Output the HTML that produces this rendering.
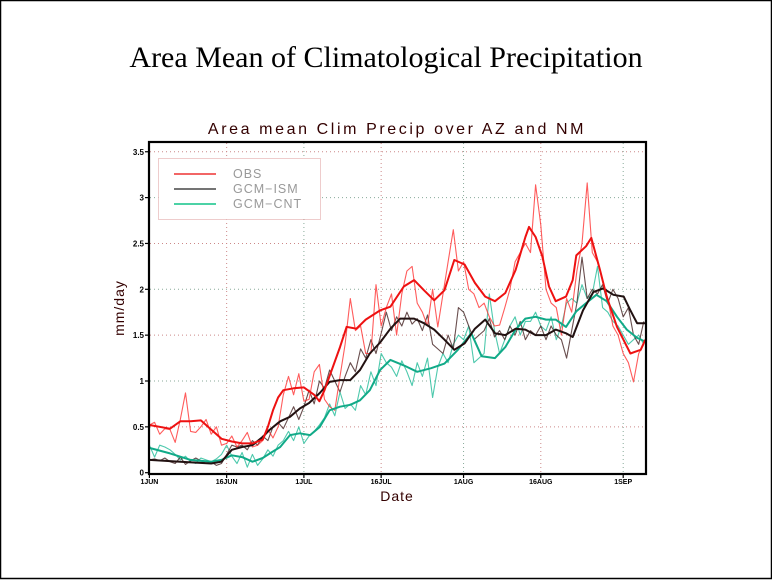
<!DOCTYPE html>
<html><head><meta charset="utf-8"><style>
html,body{margin:0;padding:0;background:#fff;}
#wrap{position:relative;width:772px;height:580px;overflow:hidden;}
svg{position:absolute;left:0;top:0;}
</style></head><body>
<div id="wrap">
<svg id="svg" width="772" height="580" font-family="Liberation Sans, sans-serif">
<rect x="0.5" y="0.5" width="771" height="578" fill="none" stroke="#000" stroke-width="1.5"/>
<text x="386" y="67" text-anchor="middle" font-family="Liberation Serif, serif" font-size="30" fill="#000">Area Mean of Climatological Precipitation</text>
<text x="397" y="134" text-anchor="middle" font-size="16" fill="#300" letter-spacing="2.6">Area mean Clim Precip over AZ and NM</text>
<text x="124" y="308" text-anchor="middle" font-size="14" fill="#300" letter-spacing="1" transform="rotate(-90 124 308)">mm/day</text>
<text x="397" y="501" text-anchor="middle" font-size="14" fill="#300" letter-spacing="1">Date</text>
<g id="grid"></g>
<g id="series"></g>
<rect x="149" y="142" width="497" height="332" fill="none" stroke="#000" stroke-width="2.2"/>
<g id="axes"></g>
<g>
<rect x="158.5" y="158.5" width="162" height="61" fill="#fff" stroke="#d99" stroke-dasharray="1,1"/>
<line x1="174" y1="174" x2="216" y2="174" stroke="#e33" stroke-width="1.5"/>
<text x="233" y="178" font-size="12.5" letter-spacing="1" fill="#999">OBS</text>
<line x1="174" y1="189" x2="216" y2="189" stroke="#222" stroke-width="1.2"/>
<text x="233" y="193" font-size="12.5" letter-spacing="1" fill="#999">GCM−ISM</text>
<line x1="174" y1="204" x2="216" y2="204" stroke="#3c9" stroke-width="1.8"/>
<text x="233" y="208" font-size="12.5" letter-spacing="1" fill="#999">GCM−CNT</text>
</g>
</svg>
</div>
<script>
const yTicks=[0,0.5,1,1.5,2,2.5,3,3.5];
const yTickLabels=["0","0.5","1","1.5","2","2.5","3","3.5"];
const xTickDays=[0,15,30,45,61,76,92];
const xTickLabels=["1JUN","16JUN","1JUL","16JUL","1AUG","16AUG","1SEP"];
const obsRaw=[0.52,0.55,0.42,0.48,0.47,0.33,0.58,0.87,0.45,0.44,
0.5,0.58,0.42,0.5,0.3,0.32,0.4,0.28,0.35,0.44,
0.28,0.3,0.35,0.47,0.38,0.5,0.85,1.05,0.85,1.08,
0.78,0.8,1.1,1.18,0.8,0.72,0.68,1.05,1.4,1.9,
1.55,1.6,1.3,1.3,2.05,1.6,1.8,1.95,1.5,1.95,
2.2,2.25,1.85,1.75,1.6,2.0,1.59,1.95,2.3,2.65,
2.2,2.3,2.0,1.95,1.8,1.85,1.7,1.6,1.61,1.8,
2.0,2.3,2.4,2.5,2.4,3.14,2.7,2.0,1.85,1.8,
1.5,1.9,1.75,2.2,2.5,3.16,2.4,2.3,2.1,1.9,
1.6,1.5,1.3,1.2,0.99,1.3,1.4];
const ismRaw=[0.14,0.15,0.13,0.16,0.12,0.1,0.17,0.09,0.13,0.16,
0.13,0.1,0.12,0.08,0.1,0.2,0.3,0.28,0.3,0.25,
0.35,0.3,0.4,0.35,0.5,0.55,0.48,0.6,0.72,0.58,
0.72,0.9,0.75,1.0,0.92,1.12,1.0,0.88,1.05,1.2,
1.1,1.35,1.25,1.45,1.3,1.52,1.75,1.55,1.7,1.6,
1.75,1.62,1.68,1.55,1.72,1.4,1.35,1.3,1.5,1.35,
1.8,1.75,1.6,1.45,1.5,1.55,1.68,1.48,1.55,1.45,
1.6,1.5,1.65,1.45,1.55,1.5,1.6,1.45,1.6,1.5,
1.45,1.25,1.55,1.85,2.35,1.9,2.0,1.95,2.05,1.85,
2.0,1.9,1.7,1.8,1.5,1.4,1.65];
const cntRaw=[0.3,0.17,0.3,0.28,0.25,0.2,0.14,0.18,0.12,0.1,
0.16,0.14,0.12,0.15,0.2,0.3,0.18,0.1,0.22,0.06,
0.2,0.08,0.15,0.25,0.18,0.3,0.35,0.45,0.35,0.5,
0.32,0.4,0.45,0.52,0.6,0.75,0.62,0.88,0.7,0.75,
0.68,0.95,0.85,1.1,0.95,1.3,1.2,1.15,1.05,1.22,
1.1,0.95,1.2,1.05,1.25,0.82,1.15,1.3,1.2,1.4,
1.5,1.45,1.6,1.2,1.25,1.3,1.95,1.55,1.3,1.45,
1.6,1.7,1.5,1.65,1.65,1.75,1.6,1.55,1.7,1.45,
1.6,1.85,1.9,1.85,2.05,1.9,1.95,2.25,1.8,1.75,
1.65,1.6,1.5,1.4,1.45,1.5,1.4];
const obsSmoothDays=[0,4,6,8,10,12,14,16,18,20,22,23,24,25,26,28,30,32,33,34,37,38.3,40.2,42,44.8,46.8,49.4,51.4,53.3,55.3,57.3,59.2,61.2,63.2,65.2,67.1,69.1,71.1,73,73.7,75,76.3,77.6,78.9,80.9,82.2,82.9,84.8,85.8,87.5,88.8,90.8,93.4,95.4,96.3];
const obsSmooth=[0.52,0.48,0.56,0.56,0.57,0.47,0.37,0.34,0.32,0.32,0.36,0.5,0.68,0.82,0.9,0.92,0.93,0.85,0.78,0.9,1.37,1.59,1.57,1.67,1.77,1.81,2.03,2.1,1.99,1.88,1.99,2.32,2.27,2.07,1.92,1.87,1.96,2.21,2.57,2.68,2.57,2.36,2.03,1.87,1.92,2.1,2.37,2.47,2.56,2.21,1.92,1.59,1.3,1.34,1.45];
const ismSmoothDays=[0,6,12,14,16,18,20,22,23.4,25.4,27.3,29.2,31,33.1,35,37,39,40.9,42.8,44.8,46.8,48.7,51.4,53.3,55.3,57.3,59.2,61.2,63.2,65.2,67.1,69.1,71.1,73,75,77,78.9,80.9,82.2,84.2,86.2,88.1,90.1,92.1,93.4,94.7,96.3];
const ismSmooth=[0.14,0.12,0.1,0.12,0.25,0.28,0.3,0.39,0.47,0.56,0.61,0.7,0.76,0.87,0.99,1.01,1.01,1.12,1.3,1.42,1.57,1.68,1.68,1.63,1.56,1.45,1.34,1.41,1.57,1.67,1.52,1.5,1.57,1.56,1.5,1.5,1.56,1.52,1.48,1.77,1.97,2.01,1.94,1.92,1.77,1.63,1.63];
const cntSmoothDays=[0,4,8,12,14,16,18,20,22,23.4,25.4,27.3,29.2,31.2,33.1,35,37,39,40.9,42.8,44.8,46.8,49.4,52,54.7,57.3,59.9,62.5,64.5,67.1,69.1,71.1,73,75,77,78.9,80.9,82.9,84.8,86.8,88.8,90.8,92.7,94.7,96.3];
const cntSmooth=[0.27,0.21,0.14,0.12,0.14,0.19,0.17,0.12,0.16,0.21,0.28,0.41,0.43,0.41,0.5,0.68,0.72,0.74,0.79,0.9,1.12,1.23,1.17,1.1,1.14,1.19,1.34,1.52,1.27,1.25,1.37,1.56,1.68,1.7,1.67,1.67,1.59,1.76,1.85,1.94,1.87,1.7,1.56,1.47,1.43];

const NS='http://www.w3.org/2000/svg';
function xs(d){return 149.4+d*5.15;}
function ys(v){return 472.7-v*91.7;}
function mk(tag,attrs,parent){const e=document.createElementNS(NS,tag);for(const k in attrs)e.setAttribute(k,attrs[k]);parent.appendChild(e);return e;}
const grid=document.getElementById('grid'),axes=document.getElementById('axes'),series=document.getElementById('series');
yTicks.forEach((v,i)=>{
  if(v>0){const l=mk('line',{x1:150,x2:645,y1:ys(v),y2:ys(v),stroke:i%2?'#c88':'#8a9','stroke-width':1,'stroke-dasharray':'1,3'},grid);
  
  }
  const t=mk('line',{x1:145,x2:149,y1:ys(v),y2:ys(v),stroke:'#000','stroke-width':1.2},axes);
  
  
  const tx=mk('text',{x:144,y:ys(v)+3,'text-anchor':'end','font-size':8,'font-weight':'bold',fill:'#000'},axes);
  tx.textContent=yTickLabels[i];
  
  
});
xTickDays.forEach((d,i)=>{
  if(d>0){const l=mk('line',{x1:xs(d),x2:xs(d),y1:143,y2:473,stroke:i%2?'#c88':'#8a9','stroke-width':1,'stroke-dasharray':'1,3'},grid);
  
  }
  const t=mk('line',{x1:xs(d),x2:xs(d),y1:474,y2:478,stroke:'#000','stroke-width':1.2},axes);
  
  
  const tx=mk('text',{x:xs(d),y:484,'text-anchor':'middle','font-size':7,'font-weight':'bold',fill:'#000'},axes);
  tx.textContent=xTickLabels[i];
  
  
});
function path(days,vals,color,w,op,name){
  const d=vals.map((v,i)=>(i?'L':'M')+xs(days[i]).toFixed(1)+','+ys(v).toFixed(1)).join('');
  const p=mk('path',{d:d,fill:'none',stroke:color,'stroke-width':w,'stroke-opacity':op,'stroke-linejoin':'round'},series);
  
  
}
const rawDays=obsRaw.map((_,i)=>i);
path(rawDays,cntRaw,'#2b9',1.1,0.8,'cnt-raw-line');
path(rawDays,ismRaw,'#422',1.1,0.8,'ism-raw-line');
path(rawDays,obsRaw,'#f33',1.1,0.8,'obs-raw-line');
path(cntSmoothDays,cntSmooth,'#1a8',2,1,'cnt-smooth-line');
path(ismSmoothDays,ismSmooth,'#211',2,1,'ism-smooth-line');
path(obsSmoothDays,obsSmooth,'#e11',2,1,'obs-smooth-line');
</script>
</body></html>
